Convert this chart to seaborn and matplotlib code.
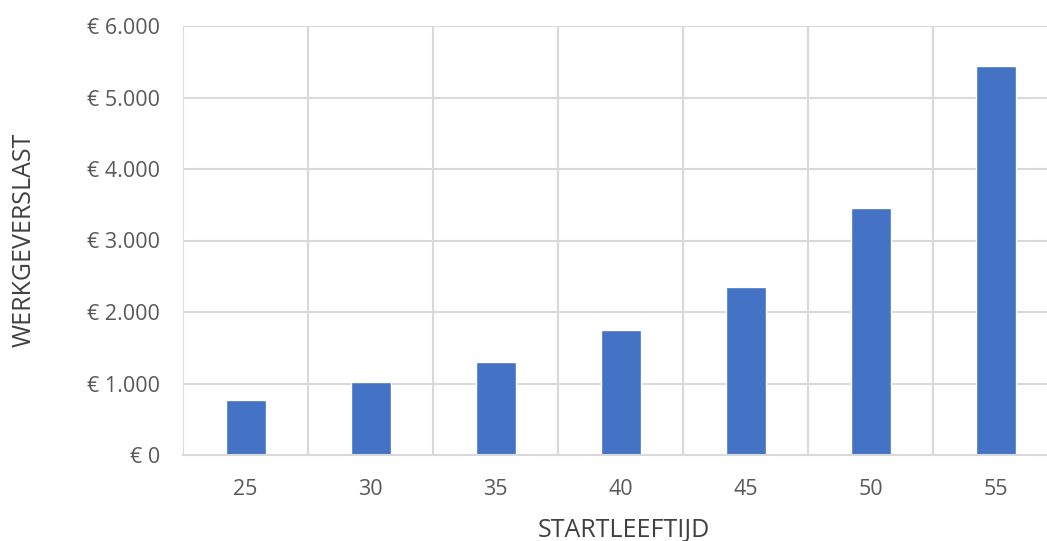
import matplotlib
matplotlib.use("Agg")
import matplotlib.pyplot as plt
import seaborn as sns
import pandas as pd
from matplotlib.ticker import FuncFormatter

ages = ["25", "30", "35", "40", "45", "50", "55"]
values = [769, 1021, 1301, 1748, 2350, 3455, 5441]
y_ticks = [0, 1000, 2000, 3000, 4000, 5000, 6000]

df = pd.DataFrame({"age": ages, "value": values})

sns.set_theme(style="white")
plt.rcParams['font.family'] = ['Open Sans', 'DejaVu Sans']

fig = plt.figure(figsize=(10.47, 5.41), dpi=100)
L, R, B, T = 183/1047, 1058/1047, 1-455/541, 1-26/541
ax = fig.add_axes([L, B, R-L, T-B])

sns.barplot(data=df, x="age", y="value", color="#4472C4", width=0.32,
            saturation=1, ax=ax, zorder=3)

ax.set_xlim(-0.5, 6.5)
ax.set_ylim(0, 6000)
ax.set_yticks(y_ticks)
ax.yaxis.set_major_formatter(FuncFormatter(lambda v, p: "€ " + f"{int(v):,}".replace(",", ".")))
ax.set_xticks(range(len(ages)))
ax.set_xticks([i - 0.5 for i in range(len(ages) + 1)], minor=True)

grid_c = "#d9d9d9"
ax.grid(axis="y", which="major", color=grid_c, linewidth=1.5, zorder=0)
ax.grid(axis="x", which="minor", color=grid_c, linewidth=1.5, zorder=0)
ax.grid(axis="x", which="major", visible=False)
for s in ["top", "right", "left"]:
    ax.spines[s].set_visible(False)
ax.spines["bottom"].set_color(grid_c)
ax.spines["bottom"].set_linewidth(1.5)
ax.spines["bottom"].set_zorder(4)

ax.tick_params(axis="both", which="both", length=0, labelsize=15.5, labelcolor="#595959")
ax.tick_params(axis="x", pad=17)
ax.tick_params(axis="y", pad=16.5)

ax.set_xlabel("")
ax.set_ylabel("")
fig.text(624/1047, 1-530/541, "STARTLEEFTIJD", ha="center", va="center",
         fontsize=18, color="#404040")
fig.text(24/1047, 1-240/541, "WERKGEVERSLAST", ha="center", va="center",
         rotation=90, fontsize=18, color="#404040")

fig.savefig("out.png", dpi=100)
